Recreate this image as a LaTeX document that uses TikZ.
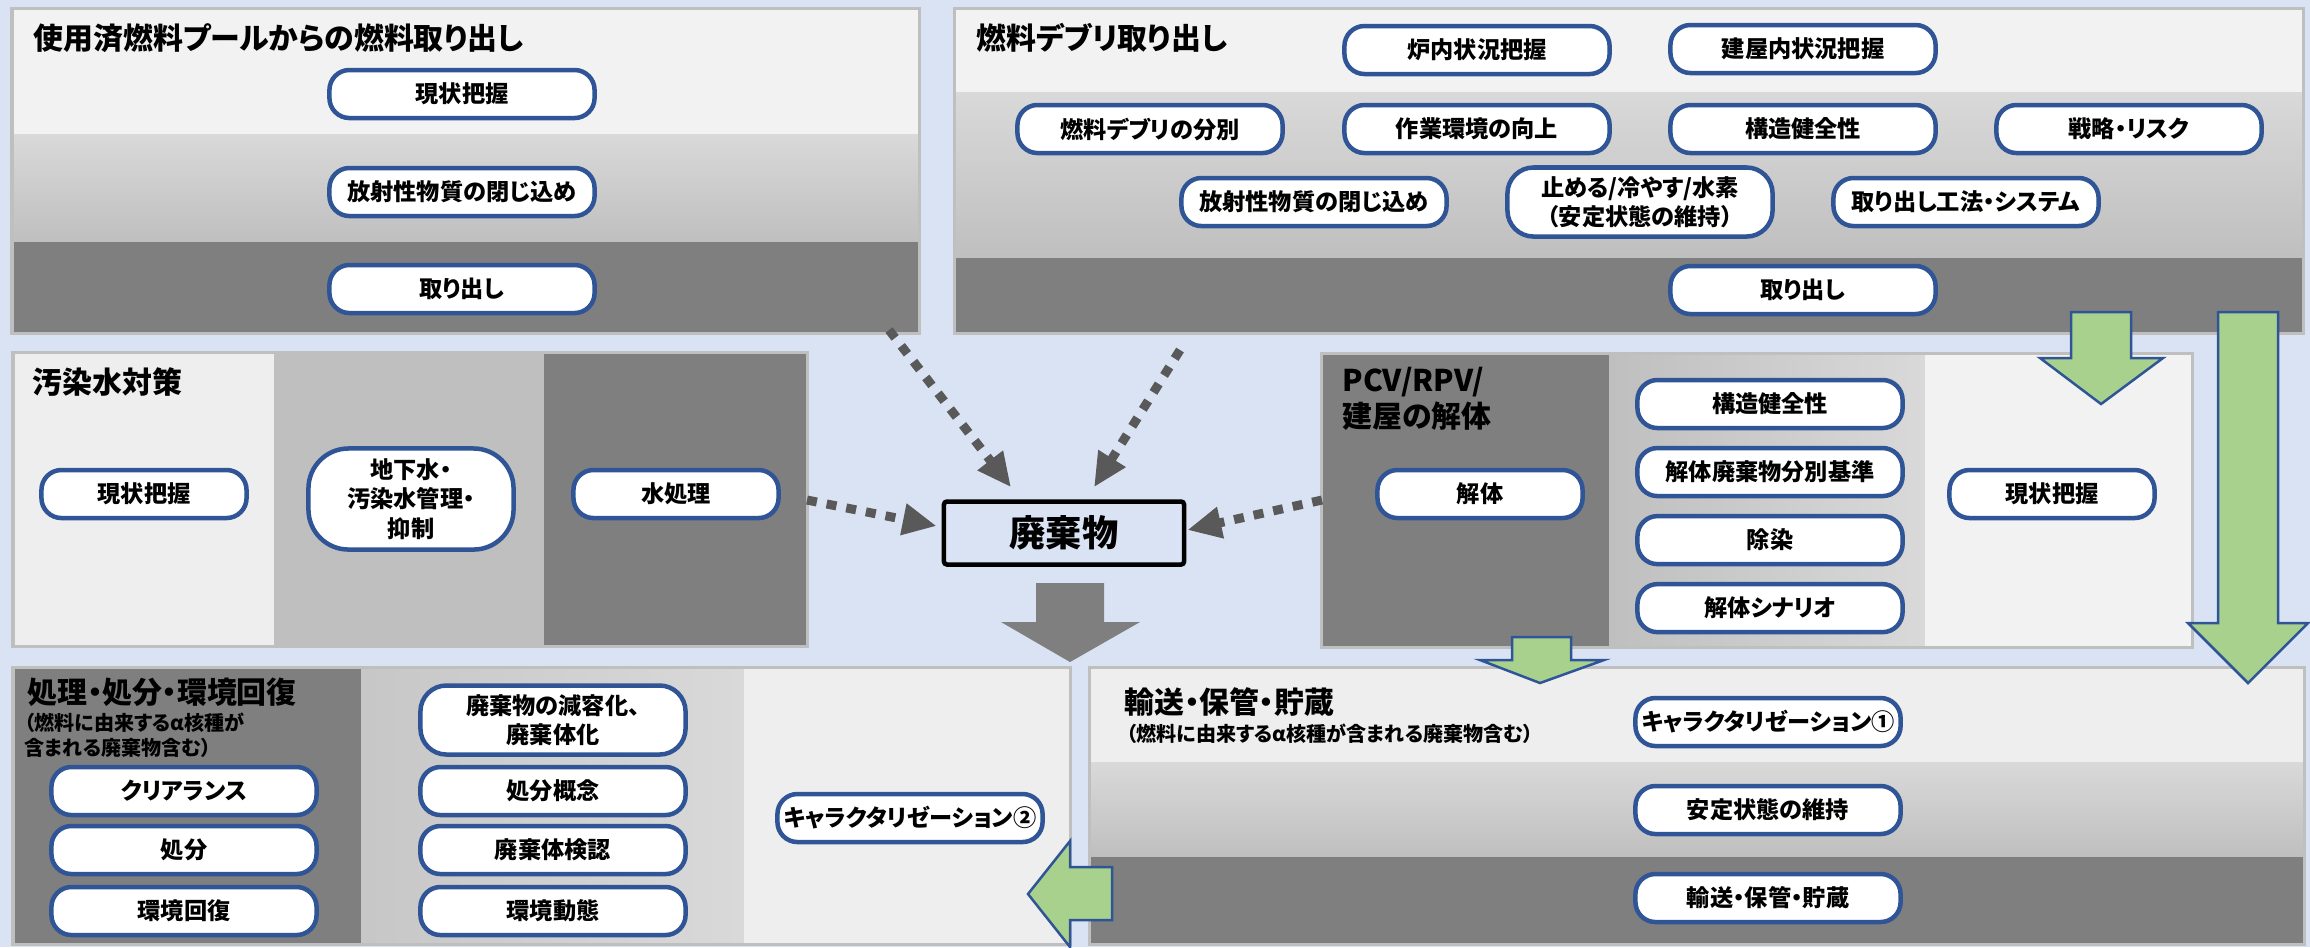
\documentclass[tikz,border=0pt]{standalone}
\usepackage{fontspec}
\setmainfont{Noto Sans CJK JP}[RawFeature=+palt]
\usetikzlibrary{positioning, arrows.meta, calc}
\definecolor{bgblue}{HTML}{DAE3F3}
\definecolor{pillblue}{HTML}{2F5597}
\definecolor{bandlight}{HTML}{F2F2F2}
\definecolor{bandpale}{HTML}{EEEEEE}
\definecolor{bandmid}{HTML}{BFBFBF}
\definecolor{bandmidlt}{HTML}{D9D9D9}
\definecolor{banddark}{HTML}{7F7F7F}
\definecolor{dotgray}{HTML}{595959}
\definecolor{leafgreen}{HTML}{A9D18E}
\tikzset{x=0.01cm, y=-0.01cm,
pill/.style={draw=pillblue, line width=0.045cm, fill=white, rounded corners=0.2cm,
  minimum width=2.65cm, minimum height=0.48cm, inner sep=0pt, align=center,
  font=\bfseries\fontsize{6.6}{8.3}\selectfont},
pillsm/.style={pill, minimum width=2.05cm},
pilltall/.style={pill, minimum height=0.69cm, rounded corners=0.26cm},
paneltitle/.style={anchor=west, inner sep=0pt, align=left,
  font=\bfseries\fontsize{8.5}{10.5}\selectfont},
panelnote/.style={anchor=north west, inner sep=0pt, align=left,
  font=\bfseries\fontsize{5.7}{7.1}\selectfont},
frame/.style={draw=bandmid, line width=0.03cm},
wastebox/.style={draw=black, line width=0.045cm, rounded corners=0.03cm,
  minimum width=2.4cm, minimum height=0.63cm, font=\bfseries\fontsize{10.3}{12}\selectfont},
dotarrow/.style={dotgray, line width=0.09cm, dash pattern=on 0.1cm off 0.1cm,
  -{Triangle[length=0.34cm,width=0.3cm]}},
greenarrow/.style={fill=leafgreen, draw=pillblue, line width=0.025cm},
}
\begin{document}
\begin{tikzpicture}
\fill[bgblue] (0,0) rectangle (2310,947);
\useasboundingbox (0,0) rectangle (2310,947);

% panels
\fill[bandlight] (12,8) rectangle (919,134);
\shade[top color=bandmidlt, bottom color=bandmid] (12,134) rectangle (919,242);
\fill[banddark] (12,242) rectangle (919,333);
\draw[frame] (12,8) rectangle (919,333);

\fill[bandlight] (954,8) rectangle (2303,92);
\shade[top color=bandmidlt, bottom color=bandmid] (954,92) rectangle (2303,258);
\fill[banddark] (954,258) rectangle (2303,333);
\draw[frame] (954,8) rectangle (2303,333);

\fill[bandpale] (13,352) rectangle (274,646);
\fill[bandmid] (274,352) rectangle (544,646);
\fill[banddark] (544,352) rectangle (807,646);
\draw[frame] (13,352) rectangle (807,646);

\fill[banddark] (1321,353) rectangle (1609,647);
\shade[left color=bandmid, right color=bandmidlt] (1609,353) rectangle (1925,647);
\fill[bandlight] (1925,353) rectangle (2192,647);
\draw[frame] (1321,353) rectangle (2192,647);

\fill[banddark] (13,667) rectangle (361,944);
\shade[left color=bandmid!70!bandmidlt, right color=bandmidlt] (361,667) rectangle (744,944);
\fill[bandpale] (744,667) rectangle (1070,944);
\draw[frame] (13,667) rectangle (1070,944);

\fill[bandpale] (1089,667) rectangle (2304,762);
\shade[top color=bandmidlt, bottom color=bandmid] (1089,762) rectangle (2304,857);
\fill[banddark] (1089,857) rectangle (2304,944);
\draw[frame] (1089,667) rectangle (2304,944);

% titles
\node[paneltitle] (poolT) at (33,38) {使用済燃料プールからの燃料取り出し};
\node[paneltitle] (debT) at (976,38) {燃料デブリ取り出し};
\node[paneltitle] (waterT) at (32,382) {汚染水対策};
\node[paneltitle, anchor=north west] (pcvT) at (1342,366) {PCV/RPV/\\建屋の解体};
\node[paneltitle] (dispT) at (27,692) {処理・処分・環境回復};
\node[panelnote] (dispN) at (24,712) {（燃料に由来するα核種が\\含まれる廃棄物含む）};
\node[paneltitle] (storT) at (1124,702) {輸送・保管・貯蔵};
\node[panelnote] (storN) at (1126,723) {（燃料に由来するα核種が含まれる廃棄物含む）};

% spent fuel pool
\node[pill] (pool1) at (462,94) {現状把握};
\node[pill] (pool2) at (462,192) {放射性物質の閉じ込め};
\node[pill] (pool3) at (462,289) {取り出し};

% fuel debris
\node[pill] (deb1) at (1477,50) {炉内状況把握};
\node[pill] (deb2) at (1803,49) {建屋内状況把握};
\node[pill] (deb3) at (1150,129) {燃料デブリの分別};
\node[pill] (deb4) at (1477,129) {作業環境の向上};
\node[pill] (deb5) at (1803,129) {構造健全性};
\node[pill] (deb6) at (2129,129) {戦略・リスク};
\node[pill] (deb7) at (1314,202) {放射性物質の閉じ込め};
\node[pilltall] (deb8) at (1640,202) {止める/冷やす/水素\\（安定状態の維持）};
\node[pill] (deb9) at (1966,202) {取り出し工法・システム};
\node[pill] (deb10) at (1803,290) {取り出し};

% contaminated water
\node[pillsm] (water1) at (144,494) {現状把握};
\node[pillsm, minimum height=1.01cm, rounded corners=0.4cm] (water2) at (411,499) {地下水・\\汚染水管理・\\抑制};
\node[pillsm] (water3) at (676,494) {水処理};

% PCV/RPV
\node[pillsm] (pcv1) at (1480,494) {解体};
\node[pill] (pcv2) at (1770,404) {構造健全性};
\node[pill, below=0.155cm of pcv2] (pcv3) {解体廃棄物分別基準};
\node[pill, below=0.155cm of pcv3] (pcv4) {除染};
\node[pill, below=0.155cm of pcv4] (pcv5) {解体シナリオ};
\node[pillsm] (pcv6) at (2052,494) {現状把握};

% disposal
\node[pill] (disp1) at (184,791) {クリアランス};
\node[pill] (disp2) at (184,850) {処分};
\node[pill] (disp3) at (184,911) {環境回復};
\node[pilltall] (disp4) at (553,720) {廃棄物の減容化、\\廃棄体化};
\node[pill] (disp5) at (553,791) {処分概念};
\node[pill] (disp6) at (553,850) {廃棄体検認};
\node[pill] (disp7) at (553,911) {環境動態};
\node[pill] (disp8) at (910,818) {キャラクタリゼーション②};

% storage
\node[pill] (stor1) at (1768,722) {キャラクタリゼーション①};
\node[pill] (stor2) at (1768,810) {安定状態の維持};
\node[pill] (stor3) at (1768,898) {輸送・保管・貯蔵};

% waste
\node[wastebox] (waste) at (1064,533) {廃棄物};
\coordinate (poolout) at (889,330);
\coordinate (debout) at (1180,350);
\coordinate (waterout) at (807,500);
\coordinate (pcvout) at (1322,500);
\draw[dotarrow] (poolout) -- ($(waste.north)+(-53,-12)$);
\draw[dotarrow] (debout) -- ($(waste.north)+(30,-12)$);
\draw[dotarrow] (waterout) -- ($(waste.west)+(-5,-7)$);
\draw[dotarrow] (pcvout) -- ($(waste.east)+(1,-3)$);
\fill[banddark] (1036,583) -- (1104,583) -- (1104,622) -- (1140,622) -- (1070,662)
  -- (1001,622) -- (1036,622) -- cycle;

% block arrows
\draw[greenarrow] (2071,312) -- (2131,312) -- (2131,358) -- (2163,358) -- (2101,404)
  -- (2040,358) -- (2071,358) -- cycle;
\draw[greenarrow] (2218,312) -- (2278,312) -- (2278,623) -- (2308,623) -- (2248,683)
  -- (2188,623) -- (2218,623) -- cycle;
\draw[greenarrow] (1512,637) -- (1571,637) -- (1571,660) -- (1604,660) -- (1540,683)
  -- (1480,660) -- (1512,660) -- cycle;
\draw[greenarrow] (1112,867) -- (1112,920) -- (1070,920) -- (1070,947) -- (1028,894)
  -- (1070,841) -- (1070,867) -- cycle;
\end{tikzpicture}
\end{document}
